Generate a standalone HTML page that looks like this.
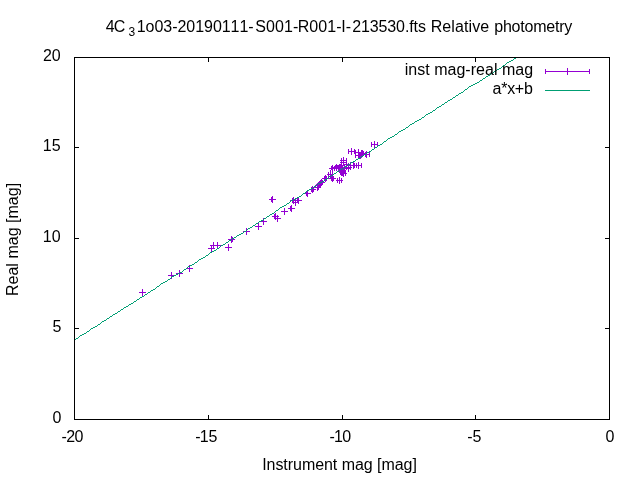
<!DOCTYPE html>
<html><head><meta charset="utf-8"><style>
html,body{margin:0;padding:0;background:#fff;}
body{width:640px;height:480px;overflow:hidden;position:relative;}
svg{position:absolute;left:0;top:0;}
#main{will-change:transform;}
text{font-family:"Liberation Sans",sans-serif;font-size:16.0px;fill:#000;white-space:pre;font-kerning:none;font-feature-settings:"kern" 0;}
</style></head><body>
<svg id="main" width="640" height="480" viewBox="0 0 640 480" shape-rendering="crispEdges">
<rect x="0" y="0" width="640" height="480" fill="#fff"/>
<rect x="74" y="57" width="536" height="1" fill="#000"/>
<rect x="74" y="419" width="536" height="1" fill="#000"/>
<rect x="74" y="57" width="1" height="363" fill="#000"/>
<rect x="609" y="57" width="1" height="363" fill="#000"/>
<rect x="208" y="415" width="1" height="4" fill="#000"/>
<rect x="208" y="58" width="1" height="4" fill="#000"/>
<rect x="342" y="415" width="1" height="4" fill="#000"/>
<rect x="342" y="58" width="1" height="4" fill="#000"/>
<rect x="475" y="415" width="1" height="4" fill="#000"/>
<rect x="475" y="58" width="1" height="4" fill="#000"/>
<rect x="75" y="147" width="4" height="1" fill="#000"/>
<rect x="605" y="147" width="4" height="1" fill="#000"/>
<rect x="75" y="238" width="4" height="1" fill="#000"/>
<rect x="605" y="238" width="4" height="1" fill="#000"/>
<rect x="75" y="328" width="4" height="1" fill="#000"/>
<rect x="605" y="328" width="4" height="1" fill="#000"/>
<rect x="139" y="292" width="7" height="1" fill="#9400d3"/>
<rect x="142" y="289" width="1" height="7" fill="#9400d3"/>
<rect x="168" y="275" width="7" height="1" fill="#9400d3"/>
<rect x="171" y="272" width="1" height="7" fill="#9400d3"/>
<rect x="176" y="273" width="7" height="1" fill="#9400d3"/>
<rect x="179" y="270" width="1" height="7" fill="#9400d3"/>
<rect x="186" y="268" width="7" height="1" fill="#9400d3"/>
<rect x="189" y="265" width="1" height="7" fill="#9400d3"/>
<rect x="208" y="248" width="7" height="1" fill="#9400d3"/>
<rect x="211" y="245" width="1" height="7" fill="#9400d3"/>
<rect x="210" y="245" width="7" height="1" fill="#9400d3"/>
<rect x="213" y="242" width="1" height="7" fill="#9400d3"/>
<rect x="214" y="245" width="7" height="1" fill="#9400d3"/>
<rect x="217" y="242" width="1" height="7" fill="#9400d3"/>
<rect x="225" y="247" width="7" height="1" fill="#9400d3"/>
<rect x="228" y="244" width="1" height="7" fill="#9400d3"/>
<rect x="231" y="239" width="2" height="1" fill="#9400d3"/>
<rect x="231" y="237" width="1" height="5" fill="#9400d3"/>
<rect x="232" y="237" width="1" height="5" fill="#9400d3"/>
<rect x="228" y="239" width="7" height="1" fill="#9400d3"/>
<rect x="231" y="236" width="1" height="7" fill="#9400d3"/>
<rect x="243" y="231" width="7" height="1" fill="#9400d3"/>
<rect x="246" y="228" width="1" height="7" fill="#9400d3"/>
<rect x="255" y="226" width="7" height="1" fill="#9400d3"/>
<rect x="258" y="223" width="1" height="7" fill="#9400d3"/>
<rect x="260" y="221" width="7" height="1" fill="#9400d3"/>
<rect x="263" y="218" width="1" height="7" fill="#9400d3"/>
<rect x="271" y="199" width="2" height="1" fill="#9400d3"/>
<rect x="271" y="197" width="1" height="5" fill="#9400d3"/>
<rect x="272" y="197" width="1" height="5" fill="#9400d3"/>
<rect x="269" y="199" width="7" height="1" fill="#9400d3"/>
<rect x="272" y="196" width="1" height="7" fill="#9400d3"/>
<rect x="274" y="216" width="2" height="1" fill="#9400d3"/>
<rect x="274" y="214" width="1" height="5" fill="#9400d3"/>
<rect x="275" y="214" width="1" height="5" fill="#9400d3"/>
<rect x="272" y="216" width="7" height="1" fill="#9400d3"/>
<rect x="275" y="213" width="1" height="7" fill="#9400d3"/>
<rect x="274" y="218" width="7" height="1" fill="#9400d3"/>
<rect x="277" y="215" width="1" height="7" fill="#9400d3"/>
<rect x="281" y="211" width="7" height="1" fill="#9400d3"/>
<rect x="284" y="208" width="1" height="7" fill="#9400d3"/>
<rect x="290" y="208" width="2" height="1" fill="#9400d3"/>
<rect x="290" y="206" width="1" height="5" fill="#9400d3"/>
<rect x="291" y="206" width="1" height="5" fill="#9400d3"/>
<rect x="288" y="208" width="7" height="1" fill="#9400d3"/>
<rect x="291" y="205" width="1" height="7" fill="#9400d3"/>
<rect x="292" y="200" width="2" height="1" fill="#9400d3"/>
<rect x="292" y="198" width="1" height="5" fill="#9400d3"/>
<rect x="293" y="198" width="1" height="5" fill="#9400d3"/>
<rect x="290" y="200" width="7" height="1" fill="#9400d3"/>
<rect x="293" y="197" width="1" height="7" fill="#9400d3"/>
<rect x="292" y="202" width="7" height="1" fill="#9400d3"/>
<rect x="295" y="199" width="1" height="7" fill="#9400d3"/>
<rect x="297" y="200" width="2" height="1" fill="#9400d3"/>
<rect x="297" y="198" width="1" height="5" fill="#9400d3"/>
<rect x="298" y="198" width="1" height="5" fill="#9400d3"/>
<rect x="295" y="200" width="7" height="1" fill="#9400d3"/>
<rect x="298" y="197" width="1" height="7" fill="#9400d3"/>
<rect x="306" y="193" width="2" height="1" fill="#9400d3"/>
<rect x="306" y="191" width="1" height="5" fill="#9400d3"/>
<rect x="307" y="191" width="1" height="5" fill="#9400d3"/>
<rect x="304" y="193" width="7" height="1" fill="#9400d3"/>
<rect x="307" y="190" width="1" height="7" fill="#9400d3"/>
<rect x="311" y="189" width="3" height="1" fill="#9400d3"/>
<rect x="311" y="187" width="1" height="5" fill="#9400d3"/>
<rect x="313" y="187" width="1" height="5" fill="#9400d3"/>
<rect x="309" y="189" width="7" height="1" fill="#9400d3"/>
<rect x="312" y="186" width="1" height="7" fill="#9400d3"/>
<rect x="317" y="187" width="2" height="1" fill="#9400d3"/>
<rect x="317" y="185" width="1" height="5" fill="#9400d3"/>
<rect x="318" y="185" width="1" height="5" fill="#9400d3"/>
<rect x="314" y="187" width="7" height="1" fill="#9400d3"/>
<rect x="317" y="184" width="1" height="7" fill="#9400d3"/>
<rect x="317" y="185" width="3" height="1" fill="#9400d3"/>
<rect x="317" y="183" width="1" height="5" fill="#9400d3"/>
<rect x="319" y="183" width="1" height="5" fill="#9400d3"/>
<rect x="315" y="185" width="7" height="1" fill="#9400d3"/>
<rect x="318" y="182" width="1" height="7" fill="#9400d3"/>
<rect x="318" y="184" width="3" height="1" fill="#9400d3"/>
<rect x="318" y="182" width="1" height="5" fill="#9400d3"/>
<rect x="320" y="182" width="1" height="5" fill="#9400d3"/>
<rect x="316" y="184" width="7" height="1" fill="#9400d3"/>
<rect x="319" y="181" width="1" height="7" fill="#9400d3"/>
<rect x="320" y="182" width="3" height="1" fill="#9400d3"/>
<rect x="320" y="180" width="1" height="5" fill="#9400d3"/>
<rect x="322" y="180" width="1" height="5" fill="#9400d3"/>
<rect x="318" y="182" width="7" height="1" fill="#9400d3"/>
<rect x="321" y="179" width="1" height="7" fill="#9400d3"/>
<rect x="324" y="178" width="3" height="1" fill="#9400d3"/>
<rect x="324" y="176" width="1" height="5" fill="#9400d3"/>
<rect x="326" y="176" width="1" height="5" fill="#9400d3"/>
<rect x="322" y="178" width="7" height="1" fill="#9400d3"/>
<rect x="325" y="175" width="1" height="7" fill="#9400d3"/>
<rect x="328" y="174" width="5" height="1" fill="#9400d3"/>
<rect x="328" y="172" width="1" height="5" fill="#9400d3"/>
<rect x="332" y="172" width="1" height="5" fill="#9400d3"/>
<rect x="327" y="174" width="7" height="1" fill="#9400d3"/>
<rect x="330" y="171" width="1" height="7" fill="#9400d3"/>
<rect x="331" y="178" width="3" height="1" fill="#9400d3"/>
<rect x="331" y="176" width="1" height="5" fill="#9400d3"/>
<rect x="333" y="176" width="1" height="5" fill="#9400d3"/>
<rect x="329" y="178" width="7" height="1" fill="#9400d3"/>
<rect x="332" y="175" width="1" height="7" fill="#9400d3"/>
<rect x="337" y="180" width="5" height="1" fill="#9400d3"/>
<rect x="337" y="178" width="1" height="5" fill="#9400d3"/>
<rect x="341" y="178" width="1" height="5" fill="#9400d3"/>
<rect x="336" y="180" width="7" height="1" fill="#9400d3"/>
<rect x="339" y="177" width="1" height="7" fill="#9400d3"/>
<rect x="341" y="160" width="6" height="1" fill="#9400d3"/>
<rect x="341" y="158" width="1" height="5" fill="#9400d3"/>
<rect x="346" y="158" width="1" height="5" fill="#9400d3"/>
<rect x="340" y="160" width="7" height="1" fill="#9400d3"/>
<rect x="343" y="157" width="1" height="7" fill="#9400d3"/>
<rect x="341" y="162" width="6" height="1" fill="#9400d3"/>
<rect x="341" y="160" width="1" height="5" fill="#9400d3"/>
<rect x="346" y="160" width="1" height="5" fill="#9400d3"/>
<rect x="340" y="162" width="7" height="1" fill="#9400d3"/>
<rect x="343" y="159" width="1" height="7" fill="#9400d3"/>
<rect x="348" y="167" width="3" height="1" fill="#9400d3"/>
<rect x="348" y="165" width="1" height="5" fill="#9400d3"/>
<rect x="350" y="165" width="1" height="5" fill="#9400d3"/>
<rect x="345" y="167" width="7" height="1" fill="#9400d3"/>
<rect x="348" y="164" width="1" height="7" fill="#9400d3"/>
<rect x="348" y="165" width="3" height="1" fill="#9400d3"/>
<rect x="348" y="163" width="1" height="5" fill="#9400d3"/>
<rect x="350" y="163" width="1" height="5" fill="#9400d3"/>
<rect x="347" y="165" width="7" height="1" fill="#9400d3"/>
<rect x="350" y="162" width="1" height="7" fill="#9400d3"/>
<rect x="353" y="165" width="2" height="1" fill="#9400d3"/>
<rect x="353" y="163" width="1" height="5" fill="#9400d3"/>
<rect x="354" y="163" width="1" height="5" fill="#9400d3"/>
<rect x="350" y="165" width="7" height="1" fill="#9400d3"/>
<rect x="353" y="162" width="1" height="7" fill="#9400d3"/>
<rect x="356" y="165" width="6" height="1" fill="#9400d3"/>
<rect x="356" y="163" width="1" height="5" fill="#9400d3"/>
<rect x="361" y="163" width="1" height="5" fill="#9400d3"/>
<rect x="355" y="165" width="7" height="1" fill="#9400d3"/>
<rect x="358" y="162" width="1" height="7" fill="#9400d3"/>
<rect x="348" y="151" width="7" height="1" fill="#9400d3"/>
<rect x="348" y="149" width="1" height="5" fill="#9400d3"/>
<rect x="354" y="149" width="1" height="5" fill="#9400d3"/>
<rect x="348" y="151" width="7" height="1" fill="#9400d3"/>
<rect x="351" y="148" width="1" height="7" fill="#9400d3"/>
<rect x="355" y="152" width="7" height="1" fill="#9400d3"/>
<rect x="355" y="150" width="1" height="5" fill="#9400d3"/>
<rect x="361" y="150" width="1" height="5" fill="#9400d3"/>
<rect x="355" y="152" width="7" height="1" fill="#9400d3"/>
<rect x="358" y="149" width="1" height="7" fill="#9400d3"/>
<rect x="355" y="155" width="4" height="1" fill="#9400d3"/>
<rect x="355" y="153" width="1" height="5" fill="#9400d3"/>
<rect x="358" y="153" width="1" height="5" fill="#9400d3"/>
<rect x="355" y="155" width="7" height="1" fill="#9400d3"/>
<rect x="358" y="152" width="1" height="7" fill="#9400d3"/>
<rect x="360" y="154" width="3" height="1" fill="#9400d3"/>
<rect x="360" y="152" width="1" height="5" fill="#9400d3"/>
<rect x="362" y="152" width="1" height="5" fill="#9400d3"/>
<rect x="358" y="154" width="7" height="1" fill="#9400d3"/>
<rect x="361" y="151" width="1" height="7" fill="#9400d3"/>
<rect x="361" y="153" width="3" height="1" fill="#9400d3"/>
<rect x="361" y="151" width="1" height="5" fill="#9400d3"/>
<rect x="363" y="151" width="1" height="5" fill="#9400d3"/>
<rect x="359" y="153" width="7" height="1" fill="#9400d3"/>
<rect x="362" y="150" width="1" height="7" fill="#9400d3"/>
<rect x="359" y="155" width="3" height="1" fill="#9400d3"/>
<rect x="359" y="153" width="1" height="5" fill="#9400d3"/>
<rect x="361" y="153" width="1" height="5" fill="#9400d3"/>
<rect x="357" y="155" width="7" height="1" fill="#9400d3"/>
<rect x="360" y="152" width="1" height="7" fill="#9400d3"/>
<rect x="365" y="154" width="5" height="1" fill="#9400d3"/>
<rect x="365" y="152" width="1" height="5" fill="#9400d3"/>
<rect x="369" y="152" width="1" height="5" fill="#9400d3"/>
<rect x="363" y="154" width="7" height="1" fill="#9400d3"/>
<rect x="366" y="151" width="1" height="7" fill="#9400d3"/>
<rect x="371" y="144" width="7" height="1" fill="#9400d3"/>
<rect x="371" y="142" width="1" height="5" fill="#9400d3"/>
<rect x="377" y="142" width="1" height="5" fill="#9400d3"/>
<rect x="371" y="144" width="7" height="1" fill="#9400d3"/>
<rect x="374" y="141" width="1" height="7" fill="#9400d3"/>
<rect x="336" y="164" width="1" height="1" fill="#9400d3"/>
<rect x="339" y="164" width="2" height="1" fill="#9400d3"/>
<rect x="344" y="164" width="2" height="1" fill="#9400d3"/>
<rect x="347" y="164" width="1" height="1" fill="#9400d3"/>
<rect x="332" y="165" width="1" height="1" fill="#9400d3"/>
<rect x="335" y="165" width="10" height="1" fill="#9400d3"/>
<rect x="346" y="165" width="1" height="1" fill="#9400d3"/>
<rect x="331" y="166" width="2" height="1" fill="#9400d3"/>
<rect x="334" y="166" width="9" height="1" fill="#9400d3"/>
<rect x="344" y="166" width="3" height="1" fill="#9400d3"/>
<rect x="331" y="167" width="17" height="1" fill="#9400d3"/>
<rect x="329" y="168" width="21" height="1" fill="#9400d3"/>
<rect x="331" y="169" width="2" height="1" fill="#9400d3"/>
<rect x="334" y="169" width="1" height="1" fill="#9400d3"/>
<rect x="336" y="169" width="1" height="1" fill="#9400d3"/>
<rect x="338" y="169" width="7" height="1" fill="#9400d3"/>
<rect x="346" y="169" width="1" height="1" fill="#9400d3"/>
<rect x="348" y="169" width="1" height="1" fill="#9400d3"/>
<rect x="330" y="170" width="1" height="1" fill="#9400d3"/>
<rect x="332" y="170" width="1" height="1" fill="#9400d3"/>
<rect x="334" y="170" width="1" height="1" fill="#9400d3"/>
<rect x="336" y="170" width="1" height="1" fill="#9400d3"/>
<rect x="338" y="170" width="8" height="1" fill="#9400d3"/>
<rect x="348" y="170" width="1" height="1" fill="#9400d3"/>
<rect x="330" y="171" width="1" height="1" fill="#9400d3"/>
<rect x="332" y="171" width="1" height="1" fill="#9400d3"/>
<rect x="338" y="171" width="8" height="1" fill="#9400d3"/>
<rect x="348" y="171" width="1" height="1" fill="#9400d3"/>
<rect x="332" y="172" width="1" height="1" fill="#9400d3"/>
<rect x="339" y="172" width="7" height="1" fill="#9400d3"/>
<rect x="332" y="173" width="1" height="1" fill="#9400d3"/>
<rect x="340" y="173" width="7" height="1" fill="#9400d3"/>
<rect x="340" y="174" width="4" height="1" fill="#9400d3"/>
<rect x="345" y="174" width="1" height="1" fill="#9400d3"/>
<rect x="341" y="175" width="3" height="1" fill="#9400d3"/>
<rect x="345" y="175" width="1" height="1" fill="#9400d3"/>
<rect x="343" y="176" width="1" height="1" fill="#9400d3"/>
<rect x="545" y="71" width="45" height="1" fill="#9400d3"/>
<rect x="545" y="69" width="1" height="5" fill="#9400d3"/>
<rect x="589" y="69" width="1" height="5" fill="#9400d3"/>
<rect x="564" y="71" width="7" height="1" fill="#9400d3"/>
<rect x="567" y="68" width="1" height="7" fill="#9400d3"/>
<rect x="545" y="90" width="45" height="1" fill="#009e73"/>
<rect x="75" y="339" width="1" height="1" fill="#009e73"/><rect x="76" y="338" width="2" height="1" fill="#009e73"/><rect x="78" y="337" width="1" height="1" fill="#009e73"/><rect x="79" y="336" width="1" height="1" fill="#009e73"/><rect x="80" y="335" width="2" height="1" fill="#009e73"/><rect x="82" y="334" width="2" height="1" fill="#009e73"/><rect x="84" y="333" width="2" height="1" fill="#009e73"/><rect x="86" y="332" width="1" height="1" fill="#009e73"/><rect x="87" y="331" width="2" height="1" fill="#009e73"/><rect x="89" y="330" width="1" height="1" fill="#009e73"/><rect x="90" y="329" width="1" height="1" fill="#009e73"/><rect x="91" y="328" width="2" height="1" fill="#009e73"/><rect x="93" y="327" width="2" height="1" fill="#009e73"/><rect x="95" y="326" width="2" height="1" fill="#009e73"/><rect x="97" y="325" width="1" height="1" fill="#009e73"/><rect x="98" y="324" width="2" height="1" fill="#009e73"/><rect x="100" y="323" width="1" height="1" fill="#009e73"/><rect x="101" y="322" width="1" height="1" fill="#009e73"/><rect x="102" y="321" width="2" height="1" fill="#009e73"/><rect x="104" y="320" width="2" height="1" fill="#009e73"/><rect x="106" y="319" width="1" height="1" fill="#009e73"/><rect x="107" y="318" width="2" height="1" fill="#009e73"/><rect x="109" y="317" width="1" height="1" fill="#009e73"/><rect x="110" y="316" width="2" height="1" fill="#009e73"/><rect x="112" y="315" width="1" height="1" fill="#009e73"/><rect x="113" y="314" width="2" height="1" fill="#009e73"/><rect x="115" y="313" width="2" height="1" fill="#009e73"/><rect x="117" y="312" width="1" height="1" fill="#009e73"/><rect x="118" y="311" width="2" height="1" fill="#009e73"/><rect x="120" y="310" width="1" height="1" fill="#009e73"/><rect x="121" y="309" width="2" height="1" fill="#009e73"/><rect x="123" y="308" width="1" height="1" fill="#009e73"/><rect x="124" y="307" width="2" height="1" fill="#009e73"/><rect x="126" y="306" width="2" height="1" fill="#009e73"/><rect x="128" y="305" width="1" height="1" fill="#009e73"/><rect x="129" y="304" width="2" height="1" fill="#009e73"/><rect x="131" y="303" width="2" height="1" fill="#009e73"/><rect x="133" y="302" width="1" height="1" fill="#009e73"/><rect x="134" y="301" width="2" height="1" fill="#009e73"/><rect x="136" y="300" width="1" height="1" fill="#009e73"/><rect x="137" y="299" width="2" height="1" fill="#009e73"/><rect x="139" y="298" width="1" height="1" fill="#009e73"/><rect x="140" y="297" width="2" height="1" fill="#009e73"/><rect x="142" y="296" width="2" height="1" fill="#009e73"/><rect x="144" y="295" width="1" height="1" fill="#009e73"/><rect x="145" y="294" width="2" height="1" fill="#009e73"/><rect x="147" y="293" width="1" height="1" fill="#009e73"/><rect x="148" y="292" width="2" height="1" fill="#009e73"/><rect x="150" y="291" width="1" height="1" fill="#009e73"/><rect x="151" y="290" width="2" height="1" fill="#009e73"/><rect x="153" y="289" width="2" height="1" fill="#009e73"/><rect x="155" y="288" width="1" height="1" fill="#009e73"/><rect x="156" y="287" width="1" height="1" fill="#009e73"/><rect x="157" y="286" width="2" height="1" fill="#009e73"/><rect x="159" y="285" width="1" height="1" fill="#009e73"/><rect x="160" y="284" width="1" height="1" fill="#009e73"/><rect x="161" y="283" width="2" height="1" fill="#009e73"/><rect x="163" y="282" width="2" height="1" fill="#009e73"/><rect x="165" y="281" width="2" height="1" fill="#009e73"/><rect x="167" y="280" width="1" height="1" fill="#009e73"/><rect x="168" y="279" width="2" height="1" fill="#009e73"/><rect x="170" y="278" width="1" height="1" fill="#009e73"/><rect x="171" y="277" width="1" height="1" fill="#009e73"/><rect x="172" y="276" width="2" height="1" fill="#009e73"/><rect x="174" y="275" width="2" height="1" fill="#009e73"/><rect x="176" y="274" width="2" height="1" fill="#009e73"/><rect x="178" y="273" width="2" height="1" fill="#009e73"/><rect x="180" y="272" width="2" height="1" fill="#009e73"/><rect x="182" y="271" width="1" height="1" fill="#009e73"/><rect x="183" y="270" width="1" height="1" fill="#009e73"/><rect x="184" y="269" width="2" height="1" fill="#009e73"/><rect x="186" y="268" width="1" height="1" fill="#009e73"/><rect x="187" y="267" width="1" height="1" fill="#009e73"/><rect x="188" y="266" width="2" height="1" fill="#009e73"/><rect x="190" y="265" width="2" height="1" fill="#009e73"/><rect x="192" y="264" width="2" height="1" fill="#009e73"/><rect x="194" y="263" width="1" height="1" fill="#009e73"/><rect x="195" y="262" width="2" height="1" fill="#009e73"/><rect x="197" y="261" width="1" height="1" fill="#009e73"/><rect x="198" y="260" width="1" height="1" fill="#009e73"/><rect x="199" y="259" width="2" height="1" fill="#009e73"/><rect x="201" y="258" width="2" height="1" fill="#009e73"/><rect x="203" y="257" width="2" height="1" fill="#009e73"/><rect x="205" y="256" width="1" height="1" fill="#009e73"/><rect x="206" y="255" width="2" height="1" fill="#009e73"/><rect x="208" y="254" width="1" height="1" fill="#009e73"/><rect x="209" y="253" width="1" height="1" fill="#009e73"/><rect x="210" y="252" width="2" height="1" fill="#009e73"/><rect x="212" y="251" width="2" height="1" fill="#009e73"/><rect x="214" y="250" width="2" height="1" fill="#009e73"/><rect x="216" y="249" width="1" height="1" fill="#009e73"/><rect x="217" y="248" width="2" height="1" fill="#009e73"/><rect x="219" y="247" width="1" height="1" fill="#009e73"/><rect x="220" y="246" width="1" height="1" fill="#009e73"/><rect x="221" y="245" width="2" height="1" fill="#009e73"/><rect x="223" y="244" width="2" height="1" fill="#009e73"/><rect x="225" y="243" width="1" height="1" fill="#009e73"/><rect x="226" y="242" width="2" height="1" fill="#009e73"/><rect x="228" y="241" width="1" height="1" fill="#009e73"/><rect x="229" y="240" width="2" height="1" fill="#009e73"/><rect x="231" y="239" width="1" height="1" fill="#009e73"/><rect x="232" y="238" width="2" height="1" fill="#009e73"/><rect x="234" y="237" width="2" height="1" fill="#009e73"/><rect x="236" y="236" width="1" height="1" fill="#009e73"/><rect x="237" y="235" width="2" height="1" fill="#009e73"/><rect x="239" y="234" width="2" height="1" fill="#009e73"/><rect x="241" y="233" width="2" height="1" fill="#009e73"/><rect x="243" y="232" width="1" height="1" fill="#009e73"/><rect x="244" y="231" width="2" height="1" fill="#009e73"/><rect x="246" y="230" width="1" height="1" fill="#009e73"/><rect x="247" y="229" width="1" height="1" fill="#009e73"/><rect x="248" y="228" width="2" height="1" fill="#009e73"/><rect x="250" y="227" width="2" height="1" fill="#009e73"/><rect x="252" y="226" width="1" height="1" fill="#009e73"/><rect x="253" y="225" width="2" height="1" fill="#009e73"/><rect x="255" y="224" width="1" height="1" fill="#009e73"/><rect x="256" y="223" width="2" height="1" fill="#009e73"/><rect x="258" y="222" width="1" height="1" fill="#009e73"/><rect x="259" y="221" width="2" height="1" fill="#009e73"/><rect x="261" y="220" width="2" height="1" fill="#009e73"/><rect x="263" y="219" width="1" height="1" fill="#009e73"/><rect x="264" y="218" width="2" height="1" fill="#009e73"/><rect x="266" y="217" width="1" height="1" fill="#009e73"/><rect x="267" y="216" width="2" height="1" fill="#009e73"/><rect x="269" y="215" width="1" height="1" fill="#009e73"/><rect x="270" y="214" width="2" height="1" fill="#009e73"/><rect x="272" y="213" width="2" height="1" fill="#009e73"/><rect x="274" y="212" width="1" height="1" fill="#009e73"/><rect x="275" y="211" width="1" height="1" fill="#009e73"/><rect x="276" y="210" width="2" height="1" fill="#009e73"/><rect x="278" y="209" width="1" height="1" fill="#009e73"/><rect x="279" y="208" width="1" height="1" fill="#009e73"/><rect x="280" y="207" width="2" height="1" fill="#009e73"/><rect x="282" y="206" width="2" height="1" fill="#009e73"/><rect x="284" y="205" width="2" height="1" fill="#009e73"/><rect x="286" y="204" width="1" height="1" fill="#009e73"/><rect x="287" y="203" width="2" height="1" fill="#009e73"/><rect x="289" y="202" width="1" height="1" fill="#009e73"/><rect x="290" y="201" width="1" height="1" fill="#009e73"/><rect x="291" y="200" width="2" height="1" fill="#009e73"/><rect x="293" y="199" width="2" height="1" fill="#009e73"/><rect x="295" y="198" width="2" height="1" fill="#009e73"/><rect x="297" y="197" width="2" height="1" fill="#009e73"/><rect x="299" y="196" width="2" height="1" fill="#009e73"/><rect x="301" y="195" width="1" height="1" fill="#009e73"/><rect x="302" y="194" width="1" height="1" fill="#009e73"/><rect x="303" y="193" width="2" height="1" fill="#009e73"/><rect x="305" y="192" width="1" height="1" fill="#009e73"/><rect x="306" y="191" width="1" height="1" fill="#009e73"/><rect x="307" y="190" width="2" height="1" fill="#009e73"/><rect x="309" y="189" width="2" height="1" fill="#009e73"/><rect x="311" y="188" width="2" height="1" fill="#009e73"/><rect x="313" y="187" width="1" height="1" fill="#009e73"/><rect x="314" y="186" width="2" height="1" fill="#009e73"/><rect x="316" y="185" width="1" height="1" fill="#009e73"/><rect x="317" y="184" width="1" height="1" fill="#009e73"/><rect x="318" y="183" width="2" height="1" fill="#009e73"/><rect x="320" y="182" width="2" height="1" fill="#009e73"/><rect x="322" y="181" width="2" height="1" fill="#009e73"/><rect x="324" y="180" width="1" height="1" fill="#009e73"/><rect x="325" y="179" width="2" height="1" fill="#009e73"/><rect x="327" y="178" width="1" height="1" fill="#009e73"/><rect x="328" y="177" width="1" height="1" fill="#009e73"/><rect x="329" y="176" width="2" height="1" fill="#009e73"/><rect x="331" y="175" width="2" height="1" fill="#009e73"/><rect x="333" y="174" width="1" height="1" fill="#009e73"/><rect x="334" y="173" width="2" height="1" fill="#009e73"/><rect x="336" y="172" width="1" height="1" fill="#009e73"/><rect x="337" y="171" width="2" height="1" fill="#009e73"/><rect x="339" y="170" width="1" height="1" fill="#009e73"/><rect x="340" y="169" width="2" height="1" fill="#009e73"/><rect x="342" y="168" width="2" height="1" fill="#009e73"/><rect x="344" y="167" width="1" height="1" fill="#009e73"/><rect x="345" y="166" width="2" height="1" fill="#009e73"/><rect x="347" y="165" width="1" height="1" fill="#009e73"/><rect x="348" y="164" width="2" height="1" fill="#009e73"/><rect x="350" y="163" width="1" height="1" fill="#009e73"/><rect x="351" y="162" width="2" height="1" fill="#009e73"/><rect x="353" y="161" width="2" height="1" fill="#009e73"/><rect x="355" y="160" width="1" height="1" fill="#009e73"/><rect x="356" y="159" width="2" height="1" fill="#009e73"/><rect x="358" y="158" width="2" height="1" fill="#009e73"/><rect x="360" y="157" width="1" height="1" fill="#009e73"/><rect x="361" y="156" width="2" height="1" fill="#009e73"/><rect x="363" y="155" width="1" height="1" fill="#009e73"/><rect x="364" y="154" width="2" height="1" fill="#009e73"/><rect x="366" y="153" width="1" height="1" fill="#009e73"/><rect x="367" y="152" width="2" height="1" fill="#009e73"/><rect x="369" y="151" width="2" height="1" fill="#009e73"/><rect x="371" y="150" width="1" height="1" fill="#009e73"/><rect x="372" y="149" width="2" height="1" fill="#009e73"/><rect x="374" y="148" width="1" height="1" fill="#009e73"/><rect x="375" y="147" width="2" height="1" fill="#009e73"/><rect x="377" y="146" width="1" height="1" fill="#009e73"/><rect x="378" y="145" width="2" height="1" fill="#009e73"/><rect x="380" y="144" width="2" height="1" fill="#009e73"/><rect x="382" y="143" width="1" height="1" fill="#009e73"/><rect x="383" y="142" width="1" height="1" fill="#009e73"/><rect x="384" y="141" width="2" height="1" fill="#009e73"/><rect x="386" y="140" width="1" height="1" fill="#009e73"/><rect x="387" y="139" width="1" height="1" fill="#009e73"/><rect x="388" y="138" width="2" height="1" fill="#009e73"/><rect x="390" y="137" width="2" height="1" fill="#009e73"/><rect x="392" y="136" width="2" height="1" fill="#009e73"/><rect x="394" y="135" width="1" height="1" fill="#009e73"/><rect x="395" y="134" width="2" height="1" fill="#009e73"/><rect x="397" y="133" width="1" height="1" fill="#009e73"/><rect x="398" y="132" width="1" height="1" fill="#009e73"/><rect x="399" y="131" width="2" height="1" fill="#009e73"/><rect x="401" y="130" width="2" height="1" fill="#009e73"/><rect x="403" y="129" width="2" height="1" fill="#009e73"/><rect x="405" y="128" width="1" height="1" fill="#009e73"/><rect x="406" y="127" width="2" height="1" fill="#009e73"/><rect x="408" y="126" width="1" height="1" fill="#009e73"/><rect x="409" y="125" width="1" height="1" fill="#009e73"/><rect x="410" y="124" width="2" height="1" fill="#009e73"/><rect x="412" y="123" width="2" height="1" fill="#009e73"/><rect x="414" y="122" width="1" height="1" fill="#009e73"/><rect x="415" y="121" width="2" height="1" fill="#009e73"/><rect x="417" y="120" width="2" height="1" fill="#009e73"/><rect x="419" y="119" width="2" height="1" fill="#009e73"/><rect x="421" y="118" width="1" height="1" fill="#009e73"/><rect x="422" y="117" width="2" height="1" fill="#009e73"/><rect x="424" y="116" width="1" height="1" fill="#009e73"/><rect x="425" y="115" width="1" height="1" fill="#009e73"/><rect x="426" y="114" width="2" height="1" fill="#009e73"/><rect x="428" y="113" width="2" height="1" fill="#009e73"/><rect x="430" y="112" width="2" height="1" fill="#009e73"/><rect x="432" y="111" width="1" height="1" fill="#009e73"/><rect x="433" y="110" width="2" height="1" fill="#009e73"/><rect x="435" y="109" width="1" height="1" fill="#009e73"/><rect x="436" y="108" width="1" height="1" fill="#009e73"/><rect x="437" y="107" width="2" height="1" fill="#009e73"/><rect x="439" y="106" width="2" height="1" fill="#009e73"/><rect x="441" y="105" width="1" height="1" fill="#009e73"/><rect x="442" y="104" width="2" height="1" fill="#009e73"/><rect x="444" y="103" width="1" height="1" fill="#009e73"/><rect x="445" y="102" width="2" height="1" fill="#009e73"/><rect x="447" y="101" width="1" height="1" fill="#009e73"/><rect x="448" y="100" width="2" height="1" fill="#009e73"/><rect x="450" y="99" width="2" height="1" fill="#009e73"/><rect x="452" y="98" width="1" height="1" fill="#009e73"/><rect x="453" y="97" width="2" height="1" fill="#009e73"/><rect x="455" y="96" width="1" height="1" fill="#009e73"/><rect x="456" y="95" width="2" height="1" fill="#009e73"/><rect x="458" y="94" width="1" height="1" fill="#009e73"/><rect x="459" y="93" width="2" height="1" fill="#009e73"/><rect x="461" y="92" width="2" height="1" fill="#009e73"/><rect x="463" y="91" width="1" height="1" fill="#009e73"/><rect x="464" y="90" width="1" height="1" fill="#009e73"/><rect x="465" y="89" width="2" height="1" fill="#009e73"/><rect x="467" y="88" width="1" height="1" fill="#009e73"/><rect x="468" y="87" width="1" height="1" fill="#009e73"/><rect x="469" y="86" width="2" height="1" fill="#009e73"/><rect x="471" y="85" width="2" height="1" fill="#009e73"/><rect x="473" y="84" width="2" height="1" fill="#009e73"/><rect x="475" y="83" width="2" height="1" fill="#009e73"/><rect x="477" y="82" width="2" height="1" fill="#009e73"/><rect x="479" y="81" width="1" height="1" fill="#009e73"/><rect x="480" y="80" width="2" height="1" fill="#009e73"/><rect x="482" y="79" width="1" height="1" fill="#009e73"/><rect x="483" y="78" width="2" height="1" fill="#009e73"/><rect x="485" y="77" width="1" height="1" fill="#009e73"/><rect x="486" y="76" width="2" height="1" fill="#009e73"/><rect x="488" y="75" width="2" height="1" fill="#009e73"/><rect x="490" y="74" width="1" height="1" fill="#009e73"/><rect x="491" y="73" width="2" height="1" fill="#009e73"/><rect x="493" y="72" width="1" height="1" fill="#009e73"/><rect x="494" y="71" width="2" height="1" fill="#009e73"/><rect x="496" y="70" width="1" height="1" fill="#009e73"/><rect x="497" y="69" width="2" height="1" fill="#009e73"/><rect x="499" y="68" width="2" height="1" fill="#009e73"/><rect x="501" y="67" width="1" height="1" fill="#009e73"/><rect x="502" y="66" width="1" height="1" fill="#009e73"/><rect x="503" y="65" width="2" height="1" fill="#009e73"/><rect x="505" y="64" width="1" height="1" fill="#009e73"/><rect x="506" y="63" width="1" height="1" fill="#009e73"/><rect x="507" y="62" width="2" height="1" fill="#009e73"/><rect x="509" y="61" width="2" height="1" fill="#009e73"/><rect x="511" y="60" width="2" height="1" fill="#009e73"/><rect x="513" y="59" width="1" height="1" fill="#009e73"/><rect x="514" y="58" width="2" height="1" fill="#009e73"/>
<text x="128.6" y="35.6" style="font-size:12px">3</text>
<text x="105.78" y="32">4</text>
<text x="113.84" y="32">C</text>
<text x="136.78" y="32" style="letter-spacing:-0.043px">1o03-20190111-</text>
<text x="255.32" y="32" style="letter-spacing:0.05px">S001-</text>
<text x="297.69" y="32" style="letter-spacing:0.05px">R001-</text>
<text x="341.27" y="32" style="letter-spacing:0.05px">I-</text>
<text x="352.15" y="32" style="letter-spacing:-0.105px">213530.fts</text>
<text x="430.64" y="32" style="letter-spacing:0.11px">Relative</text>
<text x="494.22" y="32" style="letter-spacing:-0.22px">photometry</text>
<text x="42.95" y="61" style="letter-spacing:-0.167px">20</text>
<text x="42.78" y="151" style="letter-spacing:0.144px">15</text>
<text x="42.78" y="242" style="letter-spacing:0.097px">10</text>
<text x="52.41" y="332">5</text>
<text x="52.42" y="423">0</text>
<text x="61.44" y="442">-</text>
<text x="66.35" y="442" style="letter-spacing:-0.667px">20</text>
<text x="195.34" y="442">-</text>
<text x="199.83" y="442" style="letter-spacing:-0.206px">15</text>
<text x="329.54" y="442">-</text>
<text x="334.03" y="442" style="letter-spacing:-0.553px">10</text>
<text x="467.34" y="442">-</text>
<text x="472.41" y="442">5</text>
<text x="605.52" y="442">0</text>
<text x="262.17" y="470" style="letter-spacing:-0.047px">Instrument mag [mag]</text>
<text transform="translate(18,296.06) rotate(-90)" style="letter-spacing:0.02px">Real mag [mag]</text>
<text x="404.68" y="75" style="letter-spacing:0.028px">inst mag-real mag</text>
<text x="492.57" y="94" style="letter-spacing:-0.279px">a*x+b</text>
</svg>
</body></html>
